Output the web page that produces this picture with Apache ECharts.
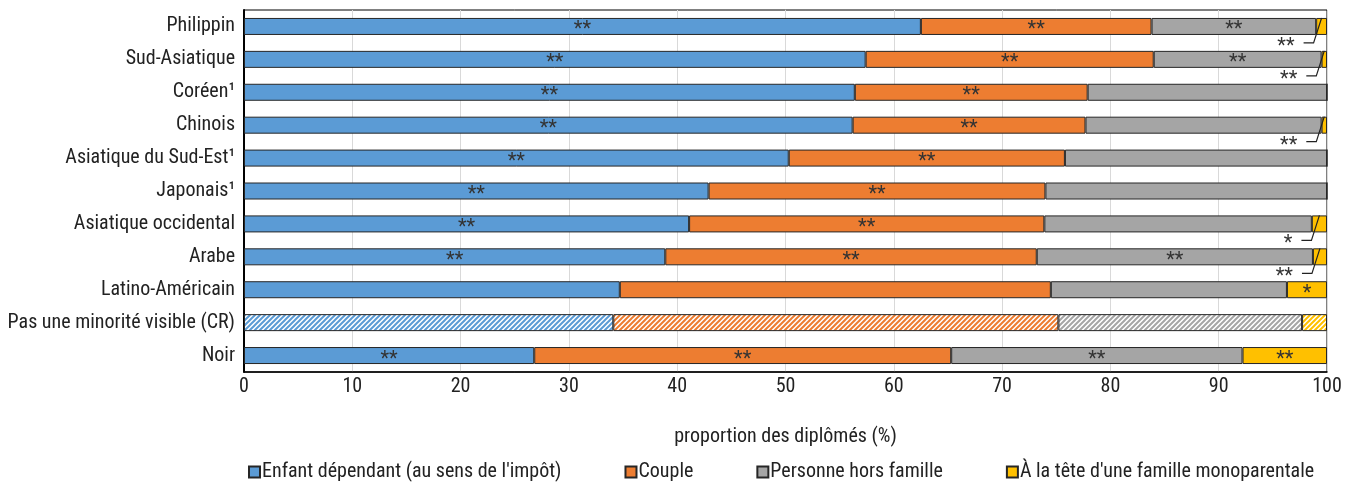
<!DOCTYPE html>
<html>
<head>
<meta charset="utf-8">
<script src="https://cdn.jsdelivr.net/npm/echarts@6/dist/echarts.min.js"></script>
<style>
  html, body { margin: 0; padding: 0; background: #fff; }
  #chart { width: 1353px; height: 487px; }
</style>
</head>
<body>
<div id="chart"></div>
<script>
// Répartition des diplômés selon la situation familiale, par groupe de minorité visible (%)
const categories = [
  'Philippin', 'Sud-Asiatique', 'Coréen¹', 'Chinois', 'Asiatique du Sud-Est¹',
  'Japonais¹', 'Asiatique occidental', 'Arabe', 'Latino-Américain',
  'Pas une minorité visible (CR)', 'Noir'
];
const seriesNames = [
  "Enfant dépendant (au sens de l'impôt)", 'Couple',
  'Personne hors famille', "À la tête d'une famille monoparentale"
];
const enfant        = [62.5, 57.4, 56.4, 56.2, 50.3, 42.9, 41.1, 38.9, 34.7, 34.1, 26.8];
const couple        = [21.3, 26.6, 21.5, 21.5, 25.5, 31.1, 32.8, 34.3, 39.8, 41.1, 38.5];
const horsFamille   = [15.2, 15.5, 22.1, 21.8, 24.2, 26.0, 24.7, 25.5, 21.8, 22.5, 26.9];
const monoparentale = [1.0, 0.5, 0, 0.5, 0, 0, 1.4, 1.3, 3.7, 2.3, 7.8];

// Significativité par rapport au groupe de référence (CR)
const sigEnfant = ['**', '**', '**', '**', '**', '**', '**', '**', '', '', '**'];
const sigCouple = ['**', '**', '**', '**', '**', '**', '**', '**', '', '', '**'];
const sigHors   = ['**', '**', '', '', '', '', '', '**', '', '', '**'];
const sigMono   = ['**', '**', '', '**', '', '', '*', '**', '*', '', '**'];

const xTicks = [0, 10, 20, 30, 40, 50, 60, 70, 80, 90, 100];
const refIndex = 9;

const colors = ['#5B9BD5', '#ED7D31', '#A5A5A5', '#FFC000'];
const FONT = "'Liberation Sans Narrow', 'Roboto Condensed', 'Arial Narrow', sans-serif";
const FS = 20;
const BAR_W = 17;
const SMALL = 2; // segments narrower than this get a leader-line label

// Diagonal white stripes over the series colour (reference group)
function hatch(color) {
  const s = 5;
  const c = document.createElement('canvas');
  c.width = s; c.height = s;
  const g = c.getContext('2d');
  g.fillStyle = '#ffffff';
  g.fillRect(0, 0, s, s);
  g.strokeStyle = color;
  g.lineWidth = 2;
  g.lineCap = 'square';
  g.beginPath();
  for (let k = 0; k <= 2; k++) {
    // line x + y = k * s
    g.moveTo(-2, k * s + 2);
    g.lineTo(k * s + 2, -2);
  }
  g.stroke();
  return { image: c, repeat: 'repeat' };
}

function makeData(values, colorIdx) {
  return values.map((v, i) => {
    if (i === refIndex) {
      return { value: v, itemStyle: { color: hatch(colors[colorIdx]) } };
    }
    return v;
  });
}

const labelBase = {
  show: true,
  position: 'inside',
  color: '#333',
  fontFamily: FONT,
  fontSize: FS,
  offset: [0, 4]
};

function barSeries(idx, values, sig, small) {
  return {
    name: seriesNames[idx],
    type: 'bar',
    stack: 'total',
    barWidth: BAR_W,
    data: makeData(values, idx),
    itemStyle: { color: colors[idx], borderColor: '#262626', borderWidth: 1 },
    label: Object.assign({}, labelBase, {
      formatter: p => (small && values[p.dataIndex] < SMALL) ? '' : sig[p.dataIndex]
    }),
    emphasis: { disabled: true },
    animation: false
  };
}

// Leader-line labels for the narrow monoparental segments
const calloutData = [];
categories.forEach((c, i) => {
  const start = enfant[i] + couple[i] + horsFamille[i];
  if (monoparentale[i] > 0 && monoparentale[i] < SMALL && sigMono[i]) {
    calloutData.push([start, start + monoparentale[i], i]);
  }
});

const chart = echarts.init(document.getElementById('chart'), null, { renderer: 'canvas' });
chart.setOption({
  animation: false,
  grid: {
    left: 244, right: 26, top: 10, bottom: 115,
    show: true, borderColor: '#000', borderWidth: 1, backgroundColor: 'transparent'
  },
  legend: {
    data: seriesNames,
    left: 243, top: 457,
    icon: 'rect',
    itemWidth: 11, itemHeight: 11, itemGap: 63,
    textStyle: { fontFamily: FONT, fontSize: FS, color: '#222', padding: [0, 0, 0, -3] }
  },
  xAxis: {
    type: 'value',
    min: 0, max: 100, interval: 10,
    name: 'proportion des diplômés (%)',
    nameLocation: 'middle',
    nameGap: 55,
    nameTextStyle: { fontFamily: FONT, fontSize: FS, color: '#222' },
    axisLine: { show: true, lineStyle: { color: '#000', width: 1.5 } },
    axisTick: { show: false },
    axisLabel: {
      fontFamily: FONT, fontSize: FS, color: '#222', margin: 5,
      formatter: v => xTicks.includes(v) ? String(v) : ''
    },
    splitLine: { show: true, lineStyle: { color: '#d9d9d9', width: 1 } }
  },
  yAxis: {
    type: 'category',
    data: categories,
    inverse: true,
    axisLine: { show: true, lineStyle: { color: '#000', width: 2 } },
    axisTick: { show: false },
    axisLabel: { fontFamily: FONT, fontSize: FS, color: '#222', margin: 9 },
    splitLine: { show: false }
  },
  series: [
    barSeries(0, enfant, sigEnfant, false),
    barSeries(1, couple, sigCouple, false),
    barSeries(2, horsFamille, sigHors, false),
    barSeries(3, monoparentale, sigMono, true),
    {
      type: 'custom',
      z: 5,
      silent: true,
      data: calloutData,
      encode: { x: [0, 1], y: 2 },
      renderItem: (params, api) => {
        const x0 = api.value(0), x1 = api.value(1), cat = api.value(2);
        const c = api.coord([(x0 + x1) / 2, cat]);
        const half = BAR_W / 2;
        const top = [c[0], c[1] - half];
        const elbow = [c[0] - 8, c[1] + half + 8];
        const tail = [elbow[0] - 10, elbow[1]];
        return {
          type: 'group',
          children: [
            {
              type: 'polyline',
              shape: { points: [top, elbow, tail] },
              style: { stroke: '#222', lineWidth: 1.2, fill: null }
            },
            {
              type: 'text',
              style: {
                text: sigMono[cat],
                x: tail[0] - 9, y: tail[1] + 4,
                align: 'right', verticalAlign: 'middle',
                fontFamily: FONT, fontSize: FS, fill: '#333'
              }
            }
          ]
        };
      }
    }
  ]
});
</script>
</body>
</html>
